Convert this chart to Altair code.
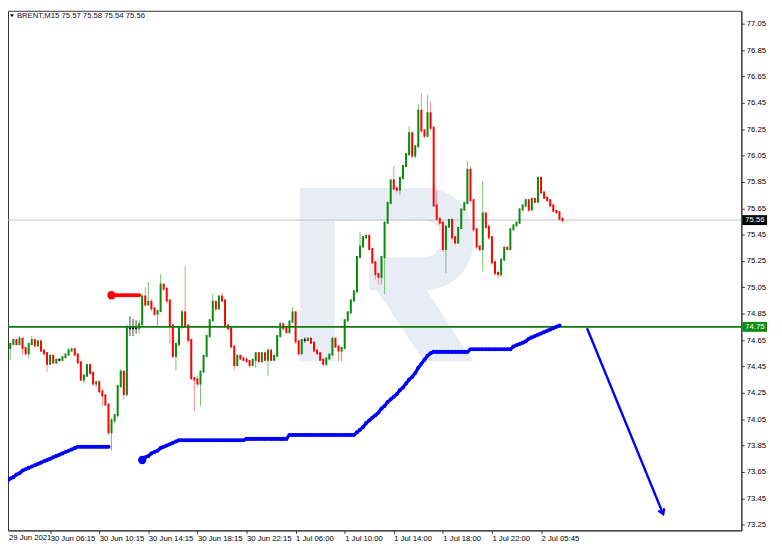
import altair as alt
import pandas as pd

TITLE = "BRENT,M15  75.57 75.58 75.54 75.56"

# ---- M15 candles (open of first bar, then close/high/low per bar) ----
first_open = 74.53
close = [74.62, 74.57, 74.59, 74.62, 74.65, 74.62, 74.66, 74.59, 74.55, 74.62,
         74.65, 74.61, 74.64, 74.57, 74.55, 74.47, 74.53, 74.48, 74.50, 74.50,
         74.52, 74.54, 74.57, 74.58, 74.54, 74.48, 74.35, 74.38, 74.46, 74.40,
         74.32, 74.33, 74.26, 74.23, 74.16, 73.95, 74.04, 74.08, 74.30, 74.41,
         74.24, 74.74, 74.74, 74.74, 74.74, 74.77, 74.98, 74.92, 74.94, 74.89,
         74.85, 74.87, 75.07, 75.04, 74.95, 74.76, 74.53, 74.62, 74.75, 74.86,
         74.76, 74.65, 74.36, 74.35, 74.32, 74.41, 74.53, 74.68, 74.80, 74.94,
         74.89, 74.98, 74.95, 74.76, 74.74, 74.60, 74.46, 74.53, 74.51, 74.50,
         74.49, 74.46, 74.50, 74.55, 74.49, 74.55, 74.50, 74.57, 74.50, 74.53,
         74.68, 74.77, 74.74, 74.71, 74.79, 74.86, 74.64, 74.55, 74.65, 74.65,
         74.66, 74.63, 74.57, 74.55, 74.50, 74.47, 74.51, 74.54, 74.66, 74.60,
         74.57, 74.59, 74.80, 74.86, 74.95, 75.02, 75.28, 75.36, 75.43, 75.44,
         75.34, 75.24, 75.15, 75.13, 75.28, 75.54, 75.69, 75.86, 75.80, 75.79,
         75.88, 75.97, 76.06, 76.22, 76.05, 76.12, 76.39, 76.24, 76.20, 76.37,
         76.26, 75.67, 75.57, 75.54, 75.34, 75.51, 75.56, 75.43, 75.39, 75.50,
         75.64, 75.69, 75.94, 75.71, 75.49, 75.36, 75.34, 75.61, 75.51, 75.43,
         75.24, 75.16, 75.15, 75.26, 75.35, 75.34, 75.49, 75.52, 75.54, 75.64,
         75.67, 75.71, 75.64, 75.72, 75.70, 75.88, 75.77, 75.73, 75.71, 75.67,
         75.63, 75.62, 75.57, 75.56]
high = [74.64, 74.64, 74.60, 74.63, 74.66, 74.66, 74.68, 74.67, 74.60, 74.63,
        74.68, 74.66, 74.65, 74.65, 74.58, 74.56, 74.54, 74.54, 74.51, 74.51,
        74.53, 74.55, 74.59, 74.59, 74.59, 74.55, 74.49, 74.39, 74.47, 74.47,
        74.41, 74.34, 74.34, 74.28, 74.24, 74.17, 74.06, 74.09, 74.31, 74.43,
        74.42, 74.77, 74.83, 74.81, 74.80, 74.80, 75.00, 75.05, 75.09, 74.96,
        74.90, 74.88, 75.15, 75.08, 75.05, 74.96, 74.77, 74.63, 74.76, 74.88,
        75.21, 74.77, 74.66, 74.37, 74.38, 74.42, 74.54, 74.69, 74.81, 75.00,
        74.95, 74.99, 75.01, 74.96, 74.77, 74.75, 74.61, 74.54, 74.54, 74.53,
        74.52, 74.50, 74.51, 74.56, 74.56, 74.56, 74.56, 74.58, 74.58, 74.54,
        74.69, 74.79, 74.78, 74.75, 74.80, 74.90, 74.87, 74.65, 74.66, 74.67,
        74.67, 74.67, 74.64, 74.58, 74.56, 74.51, 74.52, 74.55, 74.67, 74.67,
        74.61, 74.60, 74.81, 74.87, 74.96, 75.03, 75.29, 75.47, 75.44, 75.46,
        75.46, 75.35, 75.25, 75.16, 75.29, 75.55, 75.70, 75.87, 75.97, 75.82,
        75.89, 75.98, 76.07, 76.27, 76.23, 76.13, 76.44, 76.52, 76.25, 76.51,
        76.46, 76.27, 75.79, 75.58, 75.55, 75.52, 75.57, 75.57, 75.44, 75.51,
        75.65, 75.70, 76.01, 75.97, 75.72, 75.50, 75.37, 75.86, 75.62, 75.52,
        75.44, 75.25, 75.17, 75.27, 75.36, 75.36, 75.50, 75.53, 75.55, 75.65,
        75.68, 75.72, 75.72, 75.73, 75.73, 75.89, 75.89, 75.78, 75.74, 75.72,
        75.68, 75.64, 75.63, 75.58]
low = [74.49, 74.55, 74.55, 74.50, 74.61, 74.61, 74.61, 74.54, 74.53, 74.51,
       74.61, 74.60, 74.60, 74.56, 74.53, 74.41, 74.46, 74.47, 74.47, 74.49,
       74.49, 74.51, 74.53, 74.56, 74.53, 74.47, 74.34, 74.32, 74.37, 74.39,
       74.30, 74.29, 74.25, 74.15, 74.15, 73.93, 73.81, 74.02, 74.06, 74.29,
       74.20, 74.22, 74.68, 74.68, 74.70, 74.70, 74.76, 74.90, 74.91, 74.87,
       74.83, 74.75, 74.86, 75.02, 74.93, 74.62, 74.51, 74.42, 74.60, 74.73,
       74.74, 74.63, 74.35, 74.11, 74.30, 74.15, 74.40, 74.52, 74.67, 74.79,
       74.87, 74.88, 74.94, 74.74, 74.72, 74.59, 74.42, 74.45, 74.50, 74.49,
       74.48, 74.44, 74.45, 74.44, 74.48, 74.48, 74.49, 74.38, 74.49, 74.49,
       74.52, 74.67, 74.72, 74.70, 74.70, 74.78, 74.62, 74.53, 74.54, 74.63,
       74.64, 74.62, 74.56, 74.54, 74.49, 74.45, 74.45, 74.50, 74.53, 74.59,
       74.49, 74.49, 74.58, 74.79, 74.85, 74.94, 75.01, 75.27, 75.35, 75.42,
       75.33, 75.23, 75.11, 75.07, 75.07, 75.00, 75.53, 75.68, 75.79, 75.77,
       75.75, 75.87, 75.96, 76.05, 76.03, 76.03, 76.11, 76.22, 76.18, 76.19,
       76.24, 75.66, 75.55, 75.52, 75.32, 75.16, 75.50, 75.41, 75.37, 75.38,
       75.49, 75.63, 75.68, 75.70, 75.47, 75.34, 75.32, 75.17, 75.49, 75.41,
       75.22, 75.14, 75.12, 75.13, 75.25, 75.33, 75.33, 75.48, 75.51, 75.53,
       75.63, 75.66, 75.62, 75.63, 75.69, 75.69, 75.76, 75.72, 75.70, 75.66,
       75.62, 75.61, 75.56, 75.54]

# ---- blue trailing indicator (two runs) and red level ----
blue_a_start = 0
blue_a = [73.55, 73.56, 73.58, 73.60, 73.61, 73.63, 73.64, 73.66, 73.67, 73.68,
          73.69, 73.70, 73.71, 73.72, 73.73, 73.74, 73.75, 73.76, 73.77, 73.78,
          73.79, 73.80, 73.81, 73.82, 73.83] + [73.84] * 11
blue_b_start = 46
blue_b = ([73.74, 73.76, 73.77, 73.79, 73.80, 73.81, 73.83, 73.84, 73.85, 73.86,
           73.87, 73.88] + [73.89] * 22 + [73.90] * 14 + [73.93] * 22 +
          [73.95, 73.97, 73.99, 74.02, 74.04, 74.06, 74.08, 74.10, 74.13, 74.15,
           74.18, 74.20, 74.22, 74.24, 74.27, 74.29, 74.32, 74.35, 74.37, 74.40,
           74.44, 74.47, 74.50, 74.53, 74.55] + [74.56] * 12 + [74.58] * 14 +
          [74.60, 74.61, 74.62, 74.63, 74.64, 74.66, 74.67, 74.68, 74.69, 74.70,
           74.71, 74.72, 74.73, 74.74, 74.75, 74.76])
red_bars = [36, 37, 38, 39, 40, 41, 42, 43, 44, 45]
red_level = 74.99

level_line = 74.75
last_price = 75.56

arrow_bar = [191.0, 215.8]
arrow_price = [74.74, 73.33]

tick_bars = [0, 16, 32, 48, 64, 80, 96, 112, 128, 144, 160, 176]
tick_labels = ["29 Jun 2021", "30 Jun 06:15", "30 Jun 10:15", "30 Jun 14:15",
               "30 Jun 18:15", "30 Jun 22:15", "1 Jul 06:00", "1 Jul 10:00",
               "1 Jul 14:00", "1 Jul 18:00", "1 Jul 22:00", "2 Jul 05:45"]
price_ticks = [73.25, 73.45, 73.65, 73.85, 74.05, 74.25, 74.45, 74.65, 74.85,
               75.05, 75.25, 75.45, 75.65, 75.85, 76.05, 76.25, 76.45, 76.65,
               76.85, 77.05]

# ---- build tables ----
opens = [first_open] + close[:-1]
rows = []
for k in range(len(close)):
    o, c = opens[k], close[k]
    if c > o:
        body, wick = "#0a8a0a", "#76bf76"
    elif c < o:
        body, wick = "#ff0000", "#ff8c8c"
    else:
        body, wick = "#000000", "#444444"
    rows.append(dict(i=k, o=o, h=high[k], l=low[k], c=c, body=body, wick=wick))
df = pd.DataFrame(rows)

blue_rows = [dict(i=blue_a_start + k, p=v, seg="a") for k, v in enumerate(blue_a)]
blue_rows += [dict(i=blue_b_start + k, p=v, seg="b") for k, v in enumerate(blue_b)]
blue_df = pd.DataFrame(blue_rows)
red_df = pd.DataFrame(dict(i=red_bars, p=[red_level] * len(red_bars)))
blue_start = pd.DataFrame(dict(i=[blue_b_start], p=[blue_b[0]]))
red_start = pd.DataFrame(dict(i=[red_bars[0]], p=[red_level]))
arrow_df = pd.DataFrame(dict(i=arrow_bar, p=arrow_price))
arrow_head = arrow_df.iloc[[-1]]

W, H = 741, 525
FONT = "Liberation Sans"
FS = 7.8
xs = alt.Scale(domain=[2.258, 241.29], nice=False, zero=False)
ys = alt.Scale(domain=[73.206, 77.148], nice=False, zero=False)

label_arr = "[" + ",".join("'%s'" % t for t in tick_labels) + "]"
x_axis = alt.Axis(values=tick_bars[1:], labelExpr=label_arr + "[round(datum.value/16)]",
                  title=None, grid=False, labelAlign="left", labelBaseline="top",
                  labelPadding=1, tickSize=3, labelFontSize=FS, labelFont=FONT,
                  labelColor="#000000", domainColor="#333333", tickColor="#333333",
                  labelOverlap=False, labelFlush=False)
y_axis = alt.Axis(orient="right", values=price_ticks, format=".2f", title=None,
                  grid=False, labelAlign="left", labelBaseline="middle",
                  labelPadding=2, tickSize=3, labelFontSize=FS, labelFont=FONT,
                  labelColor="#000000", domainColor="#333333", tickColor="#333333",
                  labelOverlap=False, labelFlush=False)


def X(f):
    return alt.X(f, scale=xs, axis=x_axis)


def Y(f):
    return alt.Y(f, scale=ys, axis=y_axis)


one = pd.DataFrame({"k": [0]})
LOGO = "#e8ecf4"


def box(x0, x1, y0, y1, color, **kw):
    return alt.Chart(one).mark_rect(color=color, **kw).encode(
        x=alt.value(x0), x2=alt.value(x1), y=alt.value(y0), y2=alt.value(y1))


# faint broker watermark (decoration, pixel placed)
logo = [
    box(295, 470, 179, 282, LOGO, cornerRadiusTopRight=48, cornerRadiusBottomRight=48),
    box(330, 437, 212, 249, "#ffffff", cornerRadiusTopRight=16, cornerRadiusBottomRight=16),
    box(330, 365, 249, 282, "#ffffff"),
    box(295, 330, 179, 354, LOGO),
    alt.Chart(one).mark_point(
        shape="M-0.86,-0.69L0.1,-0.69L1,0.69L0.05,0.69Z", filled=True, color=LOGO,
        opacity=1, size=11025, strokeWidth=0).encode(
        x=alt.value(417.5), y=alt.value(318)),
]

wicks = alt.Chart(df).mark_rule(strokeWidth=1, clip=True).encode(
    x=X("i:Q"), y=Y("l:Q"), y2="h:Q",
    color=alt.Color("wick:N", scale=None))
bodies = alt.Chart(df).mark_rule(strokeWidth=2, strokeCap="square", clip=True).encode(
    x=X("i:Q"), y=Y("o:Q"), y2="c:Q",
    color=alt.Color("body:N", scale=None))

price_line = alt.Chart(pd.DataFrame({"v": [last_price]})).mark_rule(
    color="#c4c4c4", strokeWidth=1).encode(y=Y("v:Q"))
level = alt.Chart(pd.DataFrame({"v": [level_line]})).mark_rule(
    color="#0c7c0c", strokeWidth=1.6).encode(y=Y("v:Q"))

BLUE = "#0000ff"
blue_line = alt.Chart(blue_df).mark_line(color=BLUE, strokeWidth=3.2, clip=True).encode(
    x=X("i:Q"), y=Y("p:Q"), detail="seg:N")
blue_dots = alt.Chart(blue_df).mark_circle(color=BLUE, size=17, opacity=1, clip=True).encode(
    x=X("i:Q"), y=Y("p:Q"))
blue_big = alt.Chart(blue_start).mark_circle(color=BLUE, size=70, opacity=1).encode(
    x=X("i:Q"), y=Y("p:Q"))

red_line = alt.Chart(red_df).mark_line(color="#ff0000", strokeWidth=3.2).encode(
    x=X("i:Q"), y=Y("p:Q"))
red_dots = alt.Chart(red_df).mark_circle(color="#ff0000", size=17, opacity=1).encode(
    x=X("i:Q"), y=Y("p:Q"))
red_big = alt.Chart(red_start).mark_circle(color="#ff0000", size=70, opacity=1).encode(
    x=X("i:Q"), y=Y("p:Q"))

arrow_line = alt.Chart(arrow_df).mark_line(color=BLUE, strokeWidth=2.4).encode(
    x=X("i:Q"), y=Y("p:Q"))
arrow_tip = alt.Chart(arrow_head).mark_point(
    shape="M-0.55,0.85L0,0L0.55,0.85", filled=False, color=BLUE, strokeWidth=2.4,
    size=140, angle=158, opacity=1).encode(x=X("i:Q"), y=Y("p:Q"))

tags = pd.DataFrame({"v": [level_line, last_price],
                     "bg": ["#108a10", "#000000"],
                     "t": ["%.2f" % level_line, "%.2f" % last_price]})
tag_bg = alt.Chart(tags).mark_rule(strokeWidth=10).encode(
    x=alt.value(742), x2=alt.value(767), y=Y("v:Q"),
    color=alt.Color("bg:N", scale=None))
tag_txt = alt.Chart(tags).mark_text(color="#ffffff", font=FONT, fontSize=FS,
                                    align="left", baseline="middle").encode(
    x=alt.value(745), y=Y("v:Q"), text="t:N")

title_tri = alt.Chart(one).mark_point(shape="triangle-down", filled=True, color="#000000",
                                      size=14, opacity=1).encode(
    x=alt.value(4), y=alt.value(5))
title_txt = alt.Chart(one).mark_text(text=TITLE, font=FONT, fontSize=FS, color="#101030",
                                     align="left", baseline="middle").encode(
    x=alt.value(9), y=alt.value(5))
first_lbl = alt.Chart(one).mark_text(text=tick_labels[0], font=FONT, fontSize=FS,
                                     color="#000000", align="left", baseline="top").encode(
    x=alt.value(1), y=alt.value(H + 4))

chart = alt.layer(
    *logo, price_line, wicks, bodies, level,
    blue_line, blue_dots, blue_big, red_line, red_dots, red_big,
    arrow_line, arrow_tip, tag_bg, tag_txt, title_tri, title_txt, first_lbl
).properties(
    width=W, height=H,
    autosize=alt.AutoSizeParams(type="none"),
    padding={"left": 0, "top": 0, "right": 33, "bottom": 17},
    background="#ffffff",
).configure_view(stroke="#333333", strokeWidth=1)

chart.save("out.html", embed_options={"renderer": "svg", "actions": False})
